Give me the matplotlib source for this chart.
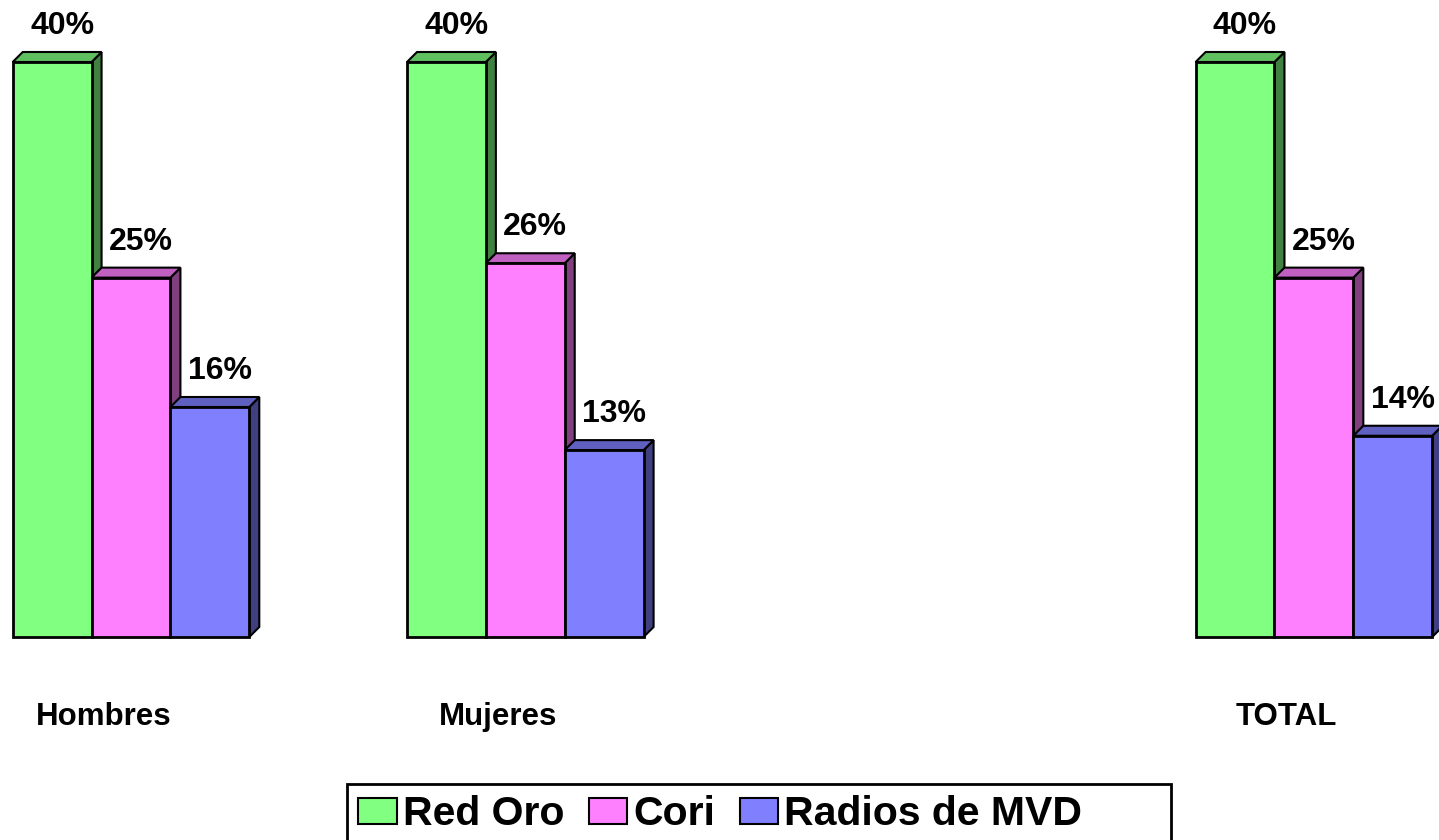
import matplotlib
matplotlib.use("Agg")
import matplotlib.pyplot as plt
from matplotlib.patches import Polygon, Patch, Rectangle

categories = ["Hombres", "Mujeres", "", "TOTAL"]
series = ["Red Oro", "Cori", "Radios de MVD"]
red_oro = [40, 40, None, 40]
cori = [25, 26, None, 25]
radios = [16, 13, None, 14]

front = ["#80FF80", "#FF80FF", "#8080FF"]
side = ["#408040", "#804080", "#404080"]
top = ["#60C060", "#C060C0", "#6060C0"]

W, H = 1439, 840
fig = plt.figure(figsize=(W / 100, H / 100), dpi=100)
ax = fig.add_axes([0, 0, 1, 1])

# pixel layout -> data units
px_x = 394.3          # px per category
px_y = 14.375         # px per percent
x0_px, y0_px = 131, 637
ax.set_xlim(-x0_px / px_x, (W - x0_px) / px_x)
ax.set_ylim(-(H - y0_px) / px_y, y0_px / px_y)
ax.axis("off")

bw = 0.2
dx = 10 / px_x
dy = 10 / px_y

for j, vals in enumerate([red_oro, cori, radios]):
    for i, v in enumerate(vals):
        if v is None:
            continue
        left = i - 1.5 * bw + j * bw
        right = left + bw
        # side face
        ax.add_patch(Polygon([(right, 0), (right + dx, dy), (right + dx, v + dy), (right, v)],
                             closed=True, facecolor=side[j], edgecolor="black", lw=1.5, zorder=2 + j))
        # top face
        ax.add_patch(Polygon([(left, v), (right, v), (right + dx, v + dy), (left + dx, v + dy)],
                             closed=True, facecolor=top[j], edgecolor="black", lw=1.5, zorder=2 + j))
        # front face
        ax.bar(left, v, width=bw, align="edge", color=front[j], edgecolor="black",
               linewidth=2, zorder=2 + j)
        ax.annotate(f"{v}%", (left + bw / 2 + dx, v + dy), xytext=(0, 13),
                    textcoords="offset points", ha="center", va="baseline",
                    fontsize=23, fontweight="bold", family="Liberation Sans", zorder=10)

for i, c in enumerate(categories):
    if c:
        ax.text(i - 0.0697, -6.12, c, ha="center", va="baseline", fontsize=22.5,
                fontweight="bold", family="Liberation Sans")

# legend frame (runs off the bottom edge like the original)
ax.add_patch(Rectangle((347 / W, -0.1), (1171 - 347) / W, 0.1 + 1 - 784 / H,
                       transform=fig.transFigure, fill=False, edgecolor="black",
                       lw=2, clip_on=False, zorder=20))

handles = [Patch(facecolor=front[j], edgecolor="black", linewidth=1.5) for j in range(3)]
leg = fig.legend(handles, series, loc="upper left", bbox_to_anchor=(347 / W, 1 - 784 / H),
                 ncol=3, frameon=False,
                 prop={"family": "Liberation Sans", "weight": "bold", "size": 29.5},
                 handlelength=0.93, handleheight=0.6, handletextpad=0.15, columnspacing=0.6,
                 borderpad=0.28, borderaxespad=0)

fig.savefig("out.png", dpi=100)
